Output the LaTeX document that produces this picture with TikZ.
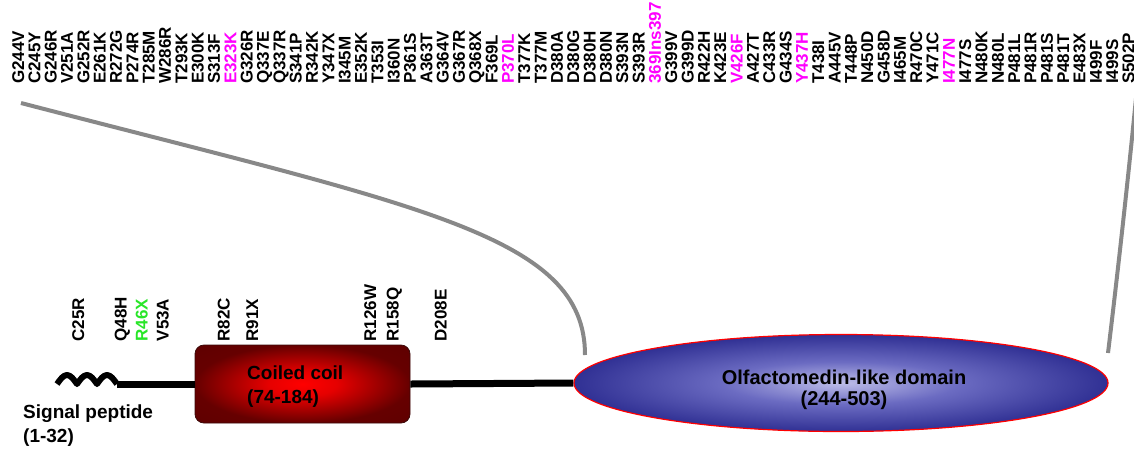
\documentclass[tikz,border=0pt]{standalone}
\usepackage{fontspec}
\setmainfont{Liberation Sans}
\usetikzlibrary{shapes.geometric}
\definecolor{mag}{RGB}{255,0,255}
\definecolor{grn}{RGB}{40,230,40}
\definecolor{conn}{RGB}{136,136,136}
\definecolor{ccborder}{RGB}{60,10,10}
\pgfdeclareradialshading{olfshade}{\pgfpoint{0bp}{0bp}}{rgb(0bp)=(.74,.74,.91); rgb(11bp)=(.42,.42,.76); rgb(25bp)=(.19,.19,.58); rgb(50bp)=(.19,.19,.58)}
\pgfdeclareradialshading{ccshade}{\pgfpoint{0bp}{0bp}}{rgb(0bp)=(1,0,0); rgb(8bp)=(.9,0,0); rgb(25bp)=(.4,0,0); rgb(50bp)=(.33,0,0)}
\begin{document}
\begin{tikzpicture}[x=1pt,y=-1pt,
  mut/.style={rotate=90, anchor=west, inner sep=0pt, font=\fontsize{17}{17}\selectfont\bfseries, text height=12pt, text depth=0pt},
  big/.style={font=\fontsize{19}{24}\selectfont\bfseries, inner sep=0pt},
  backbone/.style={line width=7pt, black},
  zoomline/.style={line width=4pt, conn},
  domainbox/.style={draw=ccborder, line width=0.8pt, rounded corners=9pt, shading=ccshade, inner sep=0pt},
  domainell/.style={ellipse, draw=red, line width=1.2pt, shading=olfshade, inner sep=0pt}]
\useasboundingbox (0,0) rectangle (1134,448);

% zoom connectors
\coordinate (lt) at (21,103);
\coordinate (lb) at (585,355);
\coordinate (rt) at (1137,88);
\coordinate (rb) at (1108,353);
\draw[zoomline] (lt) .. controls (421,207) and (585,235) .. (lb);
\draw[zoomline] (rb) .. controls (1118,270) and (1128,180) .. (rt);

% domains
\node[domainbox, minimum width=215pt, minimum height=78pt] (cc) at (302.5,384) {};
\node[domainell, minimum width=534pt, minimum height=97pt] (olf) at (841,383) {};

% signal peptide squiggle and backbone
\draw[line width=6pt, line join=round] (57,384) sin (67,375) cos (77,384) sin (87,375) cos (97,384) sin (107,375) cos (117,384) coordinate (sqend);
\draw[backbone] (sqend) -- (cc.west);
\draw[backbone] (cc.east) -- (olf.west);

% domain texts
\node[big, anchor=west, align=left] (cctext) at (247,387) {Coiled coil\\(74-184)};
\node[big, font=\fontsize{20}{21}\selectfont\bfseries, align=center] (olftext) at (844,390) {Olfactomedin-like domain\\(244-503)};
\node[big, anchor=west, align=left] (sptext) at (23,426) {Signal peptide\\(1-32)};

% N-terminal mutations
\foreach \lab/\col/\xx [count=\i] in {C25R/black/78, Q48H/black/120.5, R46X/grn/141.5, V53A/black/162.5, R82C/black/223.5, R91X/black/252, R126W/black/370, R158Q/black/392.5, D208E/black/440.5}
  \node[mut, text=\col] (b\i) at (\xx,341.5) {\lab};

% olfactomedin domain mutations
\foreach \lab/\col [count=\i] in {G244V/black, C245Y/black, G246R/black, V251A/black, G252R/black, E261K/black, R272G/black, P274R/black, T285M/black, W286R/black, T293K/black, E300K/black, S313F/black, E323K/mag, G326R/black, Q337E/black, Q337R/black, S341P/black, R342K/black, Y347X/black, I345M/black, E352K/black, T353I/black, I360N/black, P361S/black, A363T/black, G364V/black, G367R/black, Q368X/black, F369L/black, P370L/mag, T377K/black, T377M/black, D380A/black, D380G/black, D380H/black, D380N/black, S393N/black, S393R/black, 369Ins397/mag, G399V/black, G399D/black, R422H/black, K423E/black, V426F/mag, A427T/black, C433R/black, G434S/black, Y437H/mag, T438I/black, A445V/black, T448P/black, N450D/black, G458D/black, I465M/black, R470C/black, Y471C/black, I477N/mag, I477S/black, N480K/black, N480L/black, P481L/black, P481R/black, P481S/black, P481T/black, E483X/black, I499F/black, I499S/black, S502P/black}
  \node[mut, text=\col] (t\i) at ({18+(\i-1)*16.33},84) {\lab};
\end{tikzpicture}
\end{document}
